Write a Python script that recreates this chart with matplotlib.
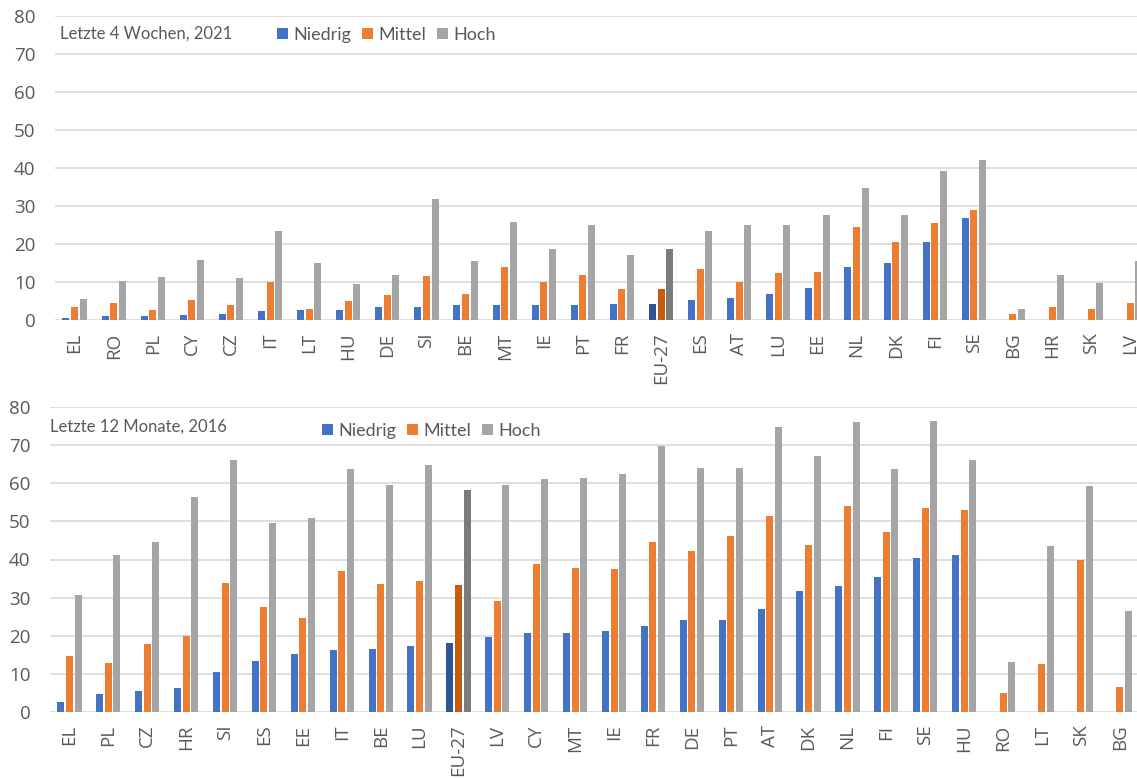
import matplotlib.pyplot as plt
import numpy as np

# Letzte 4 Wochen, 2021
cats_21 = ["EL", "RO", "PL", "CY", "CZ", "IT", "LT", "HU", "DE", "SI", "BE", "MT", "IE", "PT",
           "FR", "EU-27", "ES", "AT", "LU", "EE", "NL", "DK", "FI", "SE", "BG", "HR", "SK", "LV"]
niedrig_21 = [0.5, 1.0, 1.0, 1.3, 1.7, 2.3, 2.7, 2.7, 3.3, 3.3, 4.0, 4.0, 4.0, 4.0,
              4.2, 4.2, 5.2, 5.9, 6.8, 8.4, 13.9, 14.9, 20.4, 26.8, 0, 0, 0, 0]
mittel_21 = [3.3, 4.6, 2.6, 5.3, 4.0, 10.0, 3.0, 5.0, 6.6, 11.7, 6.9, 14.0, 10.0, 11.9,
             8.1, 8.1, 13.3, 10.0, 12.3, 12.7, 24.5, 20.4, 25.5, 29.0, 1.7, 3.3, 2.9, 4.5]
hoch_21 = [5.6, 10.3, 11.3, 15.7, 11.0, 23.3, 15.1, 9.4, 11.9, 31.9, 15.5, 25.8, 18.8, 25.1,
           17.1, 18.8, 23.3, 24.9, 24.9, 27.7, 34.8, 27.7, 39.3, 42.2, 2.9, 11.9, 9.7, 15.5]

# Letzte 12 Monate, 2016
cats_16 = ["EL", "PL", "CZ", "HR", "SI", "ES", "EE", "IT", "BE", "LU", "EU-27", "LV", "CY", "MT",
           "IE", "FR", "DE", "PT", "AT", "DK", "NL", "FI", "SE", "HU", "RO", "LT", "SK", "BG"]
niedrig_16 = [2.7, 4.7, 5.5, 6.2, 10.6, 13.3, 15.2, 16.2, 16.4, 17.4, 18.0, 19.6, 20.6, 20.6,
              21.2, 22.5, 24.1, 24.1, 26.9, 31.8, 33.1, 35.5, 40.3, 41.3, 0, 0, 0, 0]
mittel_16 = [14.6, 12.9, 17.8, 20.0, 33.9, 27.6, 24.7, 37.1, 33.7, 34.3, 33.3, 29.2, 38.8, 37.8,
             37.5, 44.5, 42.3, 46.2, 51.5, 43.9, 54.1, 47.1, 53.5, 53.1, 4.9, 12.6, 39.8, 6.5]
hoch_16 = [30.7, 41.3, 44.5, 56.3, 66.2, 49.6, 50.9, 63.7, 59.5, 64.9, 58.2, 59.5, 61.0, 61.4,
           62.4, 69.7, 63.9, 63.9, 74.8, 67.1, 76.1, 63.7, 76.3, 66.1, 13.2, 43.5, 59.2, 26.6]

series_names = ["Niedrig", "Mittel", "Hoch"]
colors = ["#4472C4", "#ED7D31", "#A5A5A5"]
colors_eu = ["#2F5597", "#C55A11", "#7B7B7B"]
txt = "#595959"

W, H = 1137, 778
fig = plt.figure(figsize=(W / 100, H / 100), dpi=100)


def panel(rect, cats, vals, title, title_xy, leg_xy):
    ax = fig.add_axes(rect)
    x = np.arange(len(cats))
    for k, v in enumerate(vals):
        cols = [colors_eu[k] if c == "EU-27" else colors[k] for c in cats]
        ax.bar(x + (k - 1) * 0.22, v, width=0.18, color=cols, zorder=3,
               label=series_names[k])
    ax.set_xlim(-0.5, len(cats) - 0.5)
    ax.set_ylim(0, 80)
    ax.set_yticks(range(0, 81, 10))
    ax.set_xticks(x)
    ax.set_xticklabels(cats, rotation=90, fontsize=13.5, color=txt, family="Open Sans")
    for lab in ax.get_yticklabels():
        lab.set_fontsize(13.5)
        lab.set_color(txt)
        lab.set_family("Open Sans")
    ax.tick_params(axis="y", length=0, pad=14)
    ax.tick_params(axis="x", length=0, pad=9)
    ax.grid(axis="y", color="#D9D9D9", linewidth=1.2, zorder=0)
    for s in ax.spines.values():
        s.set_visible(False)
    fig.text(title_xy[0] / W, 1 - title_xy[1] / H, title, fontsize=12, color=txt,
             family="Lato", va="center", ha="left")
    handles, labels = ax.get_legend_handles_labels()
    fig.legend(handles, labels, loc="center left",
               bbox_to_anchor=(leg_xy[0] / W, 1 - leg_xy[1] / H), ncol=3, frameon=False,
               handlelength=0.6, handleheight=0.6, handletextpad=0.3, columnspacing=0.6,
               borderpad=0, borderaxespad=0,
               prop={"family": "Lato", "size": 13}, labelcolor=txt)
    return ax


# pixel layout of the reference
top = panel([55 / W, 1 - 320 / H, 28 * 39.1 / W, 304 / H], cats_21,
            [niedrig_21, mittel_21, hoch_21], "Letzte 4 Wochen, 2021", (60, 34), (277, 35))
bot = panel([50 / W, 1 - 712 / H, 28 * 38.9 / W, 305 / H], cats_16,
            [niedrig_16, mittel_16, hoch_16], "Letzte 12 Monate, 2016", (50, 427), (322, 431))

fig.savefig("out.png", dpi=100)
